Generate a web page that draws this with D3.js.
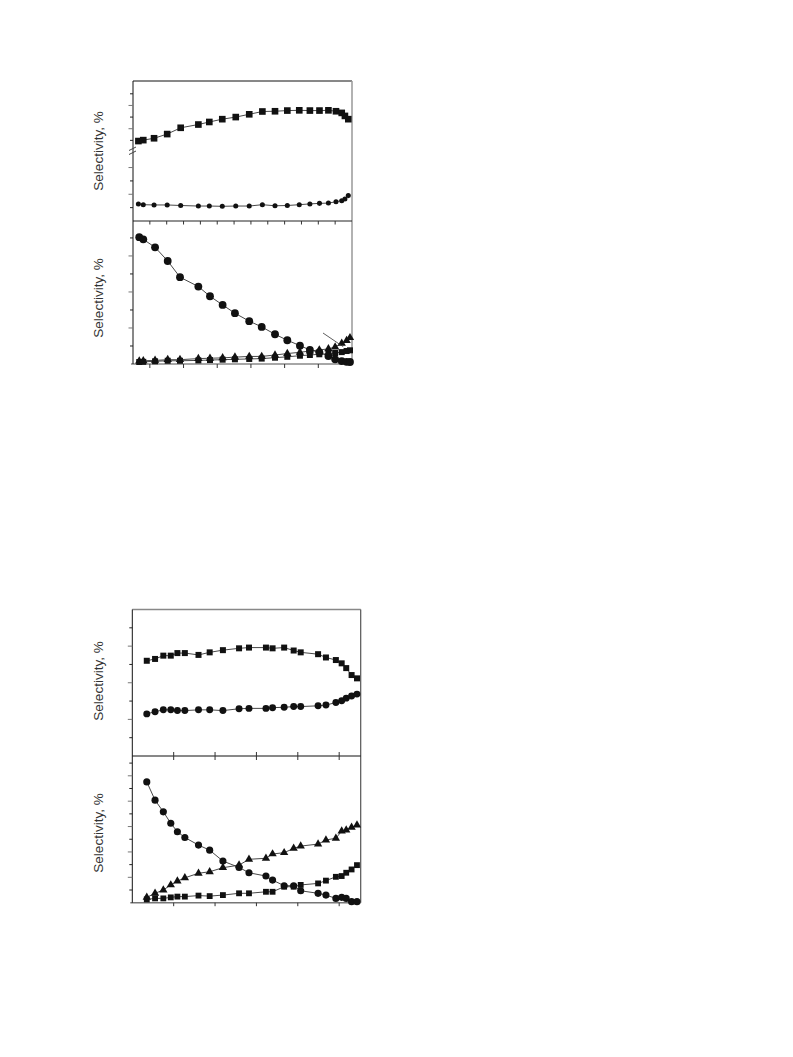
<!DOCTYPE html>
<html><head><meta charset="utf-8">
<script src="https://cdn.jsdelivr.net/npm/d3@7"></script>
<style>body{margin:0;background:#fff}svg{display:block}</style>
</head><body>
<script>
// ---------- DATA ----------
// Figure 1 (upper figure)
const fig1TopX = [0.32,0.61,1.25,2.03,2.83,3.88,4.53,5.3,6.1,6.9,7.68,8.43,9.16,9.87,10.5,11.07,11.6,12.05,12.39,12.58,12.78];
const fig1TopSquares = [54.7,55.1,55.9,57.7,60.4,61.8,62.9,64.1,65.0,66.2,67.4,67.5,67.8,67.9,67.8,67.8,67.9,67.5,66.8,65.5,64.1];
const fig1TopCircles = [6.4,6.1,6.0,6.0,5.8,5.6,5.6,5.5,5.6,5.6,6.1,5.7,5.8,6.1,6.4,6.6,6.7,7.2,7.6,8.2,9.5];
const fig1BotX = [0.37,0.61,1.31,2.06,2.79,3.88,4.57,5.32,6.05,6.9,7.64,8.43,9.16,9.91,10.5,11.06,11.6,12.0,12.39,12.68,12.88];
const fig1BotCircles = [35.2,34.6,32.4,28.6,24.1,21.5,18.8,16.4,14.1,11.9,10.3,8.25,6.6,5.1,3.9,3.25,2.2,1.3,0.8,0.6,0.55];
const fig1BotTriangles = [0.8,0.9,1.0,1.2,1.2,1.5,1.6,1.7,1.9,2.1,2.1,2.5,2.9,3.25,3.6,3.9,4.2,4.7,5.75,6.5,7.3];
const fig1BotSquares = [0.55,0.6,0.75,0.9,0.9,1.0,1.1,1.2,1.3,1.4,1.5,1.75,2.0,2.3,2.5,2.7,2.85,3.05,3.3,3.6,3.8];
const fig1ArrowFrom = [11.28, 8.6];
const fig1ArrowTo = [12.48, 4.8];
const fig1XTicks = [1,2,3,4,5,6,7,8,9,10,11,12];
const fig1XTicksBottom = [1,3,5,7,9,11];
const fig1TopUpperTicks = [55,60,65,70,75];
const fig1TopLowerTicks = [5,10,15,20];
const fig1BotTicks = [5,10,15,20,25,30,35];

// Figure 2 (lower figure)
const fig2X = [0.35,0.55,0.75,0.93,1.09,1.27,1.6,1.87,2.19,2.58,2.82,3.23,3.39,3.67,3.9,4.07,4.49,4.68,4.92,5.06,5.17,5.3,5.43];
const fig2TopSquares = [26.0,26.5,27.4,27.4,28.1,28.1,27.6,28.3,28.9,29.4,29.6,29.6,29.4,29.6,28.8,28.3,27.8,26.9,26.2,25.3,24.0,22.1,21.2];
const fig2TopCircles = [11.5,12.1,12.6,12.6,12.4,12.4,12.6,12.6,12.4,12.9,13.0,13.0,13.2,13.3,13.5,13.5,13.7,13.9,14.6,15.1,15.8,16.4,16.9];
const fig2BotCircles = [47.6,40.4,35.8,31.3,27.95,25.7,22.7,20.7,16.4,13.9,11.8,10.5,8.9,6.7,6.7,4.7,3.7,3.0,1.7,2.1,1.7,0.4,0.4];
const fig2BotTriangles = [2.1,3.7,5.0,7.0,8.5,9.8,11.6,12.2,13.8,14.8,17.1,17.5,19.2,19.7,21.4,22.3,23.1,24.7,25.4,28.2,28.6,29.7,30.6];
const fig2BotSquares = [1.3,1.7,1.7,2.1,2.4,2.4,2.8,2.6,3.0,3.7,3.7,4.3,4.3,6.3,6.3,7.0,7.6,8.7,10.2,10.5,11.8,13.1,14.8];
const fig2XTicks = [1,2,3,4,5];
const fig2TopTicks = [5,10,15,20,25,30,35];
const fig2BotTicks = [5,10,15,20,25,30,35,40,45,50,55];

const yLabel = "Selectivity, %";

// ---------- DRAW ----------
const svg = d3.select("body").append("svg").attr("width",793).attr("height",1057);
const INK = "#111", LINE = "#333";

function series(g, x, y, xs, ys, shape, size){
  const pts = xs.map((v,i)=>[x(v), y(ys[i])]);
  g.append("path").attr("d", d3.line()(pts)).attr("fill","none")
    .attr("stroke",LINE).attr("stroke-width",0.9);
  const sym = d3.symbol().type(shape).size(size);
  g.selectAll(null).data(pts).enter().append("path")
    .attr("d", sym).attr("transform", d=>`translate(${d[0]},${d[1]})`)
    .attr("fill",INK);
}
function leftTicks(g, x0, y, ticks, majorEvery){
  g.selectAll(null).data(ticks).enter().append("line")
    .attr("x1", d=> x0 - ((d % majorEvery === 0) ? 4.5 : 3))
    .attr("x2", x0).attr("y1", d=>y(d)).attr("y2", d=>y(d))
    .attr("stroke", d=> (d % majorEvery === 0) ? "#777" : "#222").attr("stroke-width",1);
}
function xTicks(g, x, yPos, ticks, dir, len){
  g.selectAll(null).data(ticks).enter().append("line")
    .attr("x1", d=>x(d)).attr("x2", d=>x(d))
    .attr("y1", yPos).attr("y2", yPos + dir*len)
    .attr("stroke","#333").attr("stroke-width",1);
}
function label(cx, cy){
  svg.append("text").attr("transform",`translate(${cx},${cy}) rotate(-90)`)
    .attr("text-anchor","middle").attr("dominant-baseline","middle")
    .attr("font-family","Liberation Sans, Arial, sans-serif").attr("font-size",13.5)
    .attr("fill","#333").text(yLabel);
}

// ===== Figure 1 =====
{
  const L=133, R=352, T=81, M=221, B=364;
  const x = d3.scaleLinear().domain([0,13]).range([L,R]);
  const yUp = d3.scaleLinear().domain([50,80.5]).range([152,T]);
  const yLo = d3.scaleLinear().domain([0,24.7]).range([M,155]);
  const yB = d3.scaleLinear().domain([0,39.7]).range([B,M]);
  const g = svg.append("g");

  // frame
  g.append("line").attr("x1",L).attr("x2",R).attr("y1",T).attr("y2",T).attr("stroke","#111");
  g.append("line").attr("x1",R).attr("x2",R).attr("y1",T).attr("y2",B).attr("stroke","#999").attr("stroke-width",1.5);
  g.append("line").attr("x1",L).attr("x2",R).attr("y1",M).attr("y2",M).attr("stroke","#222");
  g.append("line").attr("x1",L-2).attr("x2",R).attr("y1",B).attr("y2",B).attr("stroke","#888").attr("stroke-width",1.5);
  g.append("line").attr("x1",L).attr("x2",L).attr("y1",T).attr("y2",B).attr("stroke","#111");
  // axis break marks
  [148.5,152.5].forEach(yy=>{
    g.append("line").attr("x1",L-4).attr("x2",L+3).attr("y1",yy+2).attr("y2",yy-1.5)
      .attr("stroke","#444").attr("stroke-width",1);
  });

  leftTicks(g, L, yUp, fig1TopUpperTicks, 10);
  leftTicks(g, L, yLo, fig1TopLowerTicks, 10);
  leftTicks(g, L, yB, fig1BotTicks, 10);
  xTicks(g, x, M, fig1XTicks, 1, 3.5);
  xTicks(g, x, B, fig1XTicksBottom, 1, 4);

  series(g, x, yUp, fig1TopX, fig1TopSquares, d3.symbolSquare, 44);
  series(g, x, yLo, fig1TopX, fig1TopCircles, d3.symbolCircle, 20);

  series(g, x, yB, fig1BotX, fig1BotSquares, d3.symbolSquare, 36);
  series(g, x, yB, fig1BotX, fig1BotTriangles, d3.symbolTriangle, 30);
  series(g, x, yB, fig1BotX, fig1BotCircles, d3.symbolCircle, 48);

  g.append("line").attr("x1",x(fig1ArrowFrom[0])).attr("y1",yB(fig1ArrowFrom[1]))
    .attr("x2",x(fig1ArrowTo[0])).attr("y2",yB(fig1ArrowTo[1]))
    .attr("stroke","#333").attr("stroke-width",0.8);

  label(99, 151);
  label(99, 298);
}

// ===== Figure 2 =====
{
  const L=132.3, R=360.7, T=609.5, M=756, B=902.7;
  const x = d3.scaleLinear().domain([0,5.52]).range([L,R]);
  const yT = d3.scaleLinear().domain([0,40]).range([M,T]);
  const yB = d3.scaleLinear().domain([0,57.8]).range([B,M]);
  const g = svg.append("g");

  g.append("line").attr("x1",L).attr("x2",R).attr("y1",T).attr("y2",T).attr("stroke","#888").attr("stroke-width",1.5);
  g.append("line").attr("x1",R).attr("x2",R).attr("y1",T).attr("y2",B).attr("stroke","#555").attr("stroke-width",1.2);
  g.append("line").attr("x1",L).attr("x2",R).attr("y1",M).attr("y2",M).attr("stroke","#111");
  g.append("line").attr("x1",L-2).attr("x2",R).attr("y1",B).attr("y2",B).attr("stroke","#777").attr("stroke-width",1.5);
  g.append("line").attr("x1",L).attr("x2",L).attr("y1",T).attr("y2",B).attr("stroke","#111");

  leftTicks(g, L, yT, fig2TopTicks, 10);
  leftTicks(g, L, yB, fig2BotTicks, 10);
  xTicks(g, x, M, fig2XTicks, -1, 4);
  xTicks(g, x, M, fig2XTicks, 1, 4);
  xTicks(g, x, B, fig2XTicks, 1, 3.5);

  series(g, x, yT, fig2X, fig2TopSquares, d3.symbolSquare, 36);
  series(g, x, yT, fig2X, fig2TopCircles, d3.symbolCircle, 38);

  series(g, x, yB, fig2X, fig2BotSquares, d3.symbolSquare, 34);
  series(g, x, yB, fig2X, fig2BotTriangles, d3.symbolTriangle, 30);
  series(g, x, yB, fig2X, fig2BotCircles, d3.symbolCircle, 40);

  label(99, 681);
  label(99, 833);
}
</script>
</body></html>
